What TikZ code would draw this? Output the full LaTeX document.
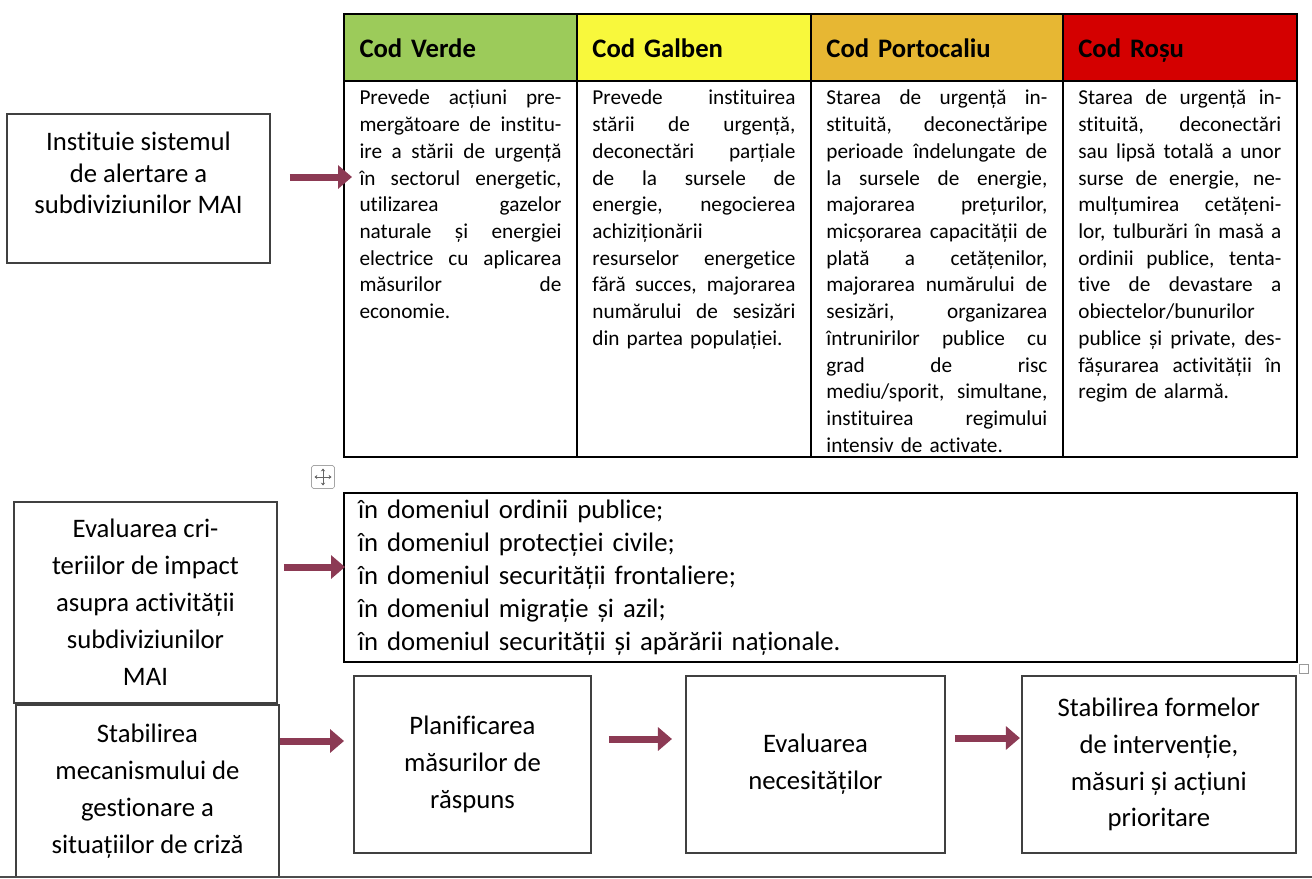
\documentclass[tikz,border=0pt]{standalone}
\usepackage{fontspec}
\setmainfont{Carlito}[Ligatures=NoCommon]
\usepackage{xcolor}
\usetikzlibrary{arrows.meta, positioning}

\definecolor{codverde}{HTML}{9CCB5A}
\definecolor{codgalben}{HTML}{F8F83C}
\definecolor{codportocaliu}{HTML}{E7B733}
\definecolor{codrosu}{HTML}{D40000}
\definecolor{sageata}{HTML}{8C3A54}

\newlength{\kw}
\newcommand{\jl}[1]{\makebox[\kw][s]{\spaceskip=\fontdimen2\font plus 1fil\relax #1}\\}
\newcommand{\cellfont}{\fontsize{12.1}{15.2}\selectfont}
\newcommand{\hdrfont}{\fontsize{15.2}{18}\selectfont\bfseries}
\newcommand{\boxfont}{\fontsize{15.2}{21}\selectfont}

\begin{document}
\begin{tikzpicture}[x=0.02cm, y=-0.02cm]
            \tikzset{
                hdr/.style={draw, line width=1pt, outer sep=0pt, inner xsep=0.31cm, inner ysep=0pt, minimum height=1.34cm, text width=#1, text height=0.44cm, text depth=0.02cm, font=\hdrfont},
                cell/.style={draw, line width=1pt, outer sep=0pt, inner xsep=0.31cm, inner ysep=0pt, text width=#1, text height=0.48cm, text depth=7.04cm, font=\cellfont, execute at begin node={\setlength{\kw}{#1}}},
                stepbox/.style={draw=black!75, line width=0.8pt, outer sep=0pt, align=center, font=\boxfont},
                arr/.style={-{Triangle[length=0.28cm, width=0.46cm]}, line width=0.14cm, draw=sageata}
            }
            \useasboundingbox (0,0) rectangle (1312,879);
            % header row of the table
            \node[hdr=4.04cm, fill=codverde, anchor=north west] (hv) at (344,14) {Cod Verde};
            \node[hdr=4.06cm, fill=codgalben, right=0pt of hv] (hg) {Cod Galben};
            \node[hdr=4.42cm, fill=codportocaliu, right=0pt of hg] (hp) {Cod Portocaliu};
            \node[hdr=4.06cm, fill=codrosu, right=0pt of hp] (hr) {Cod Roșu};
            % body row
            \node[cell=4.04cm, below=0pt of hv] (cv) {\jl{Prevede acțiuni pre-}
                \jl{mergătoare de institu-}
                \jl{ire a stării de urgență}
                \jl{în sectorul energetic,}
                \jl{utilizarea gazelor}
                \jl{naturale și energiei}
                \jl{electrice cu aplicarea}
                \jl{măsurilor de}
                economie.};
            \node[cell=4.06cm, below=0pt of hg] (cg) {\jl{Prevede instituirea}
                \jl{stării de urgență,}
                \jl{deconectări parțiale}
                \jl{de la sursele de}
                \jl{energie, negocierea}
                achiziționării\\
                \jl{resurselor energetice}
                \jl{fără succes, majorarea}
                \jl{numărului de sesizări}
                din partea populației.};
            \node[cell=4.42cm, below=0pt of hp] (cp) {\jl{Starea de urgență in-}
                \jl{stituită, deconectăripe}
                \jl{perioade îndelungate de}
                \jl{la sursele de energie,}
                \jl{majorarea prețurilor,}
                \jl{micșorarea capacității de}
                \jl{plată a cetățenilor,}
                \jl{majorarea numărului de}
                \jl{sesizări, organizarea}
                \jl{întrunirilor publice cu}
                \jl{grad de risc}
                \jl{mediu/sporit, simultane,}
                \jl{instituirea regimului}
                intensiv de activate.};
            \node[cell=4.06cm, below=0pt of hr] (cr) {\jl{Starea de urgență in-}
                \jl{stituită, deconectări}
                \jl{sau lipsă totală a unor}
                \jl{surse de energie, ne-}
                \jl{mulțumirea cetățeni-}
                \jl{lor, tulburări în masă a}
                \jl{ordinii publice, tenta-}
                \jl{tive de devastare a}
                obiectelor/bunurilor\\
                \jl{publice și private, des-}
                \jl{fășurarea activității în}
                regim de alarmă.};
            % boxes on the left
            \node[stepbox, minimum width=5.26cm, minimum height=2.98cm, font=\fontsize{15.2}{17.9}\selectfont] (alert) at (138.5,188.5) {Instituie sistemul\\de alertare a\\subdiviziunilor MAI\\~};
            \node[stepbox, minimum width=5.26cm, minimum height=4.02cm] (impact) at (145.5,602.5) {Evaluarea cri-\\teriilor de impact\\asupra activității\\subdiviziunilor\\MAI};
            \node[stepbox, minimum width=5.26cm, minimum height=3.44cm] (mecanism) at (147.5,791) {Stabilirea\\mecanismului de\\gestionare a\\situațiilor de criză};
            % list of domains
            \node[draw, line width=1pt, outer sep=0pt, anchor=north west, text width=18.5cm, inner xsep=0.28cm, minimum height=3.38cm, align=left, font=\fontsize{15.2}{18.85}\selectfont] (domenii) at (344,493) {în domeniul ordinii publice;\\
                în domeniul protecției civile;\\
                în domeniul securității frontaliere;\\
                în domeniul migrație și azil;\\
                în domeniul securității și apărării naționale.};
            % bottom row
            \node[stepbox, minimum width=4.74cm, minimum height=3.54cm] (plan) at (472.5,764.5) {Planificarea\\măsurilor de\\răspuns};
            \node[stepbox, minimum width=5.18cm, minimum height=3.54cm, right=1.9cm of plan] (necesit) {Evaluarea\\necesităților};
            \node[stepbox, minimum width=5.48cm, minimum height=3.54cm, right=1.54cm of necesit] (forme) {Stabilirea formelor\\de intervenție,\\măsuri și acțiuni\\prioritare};
            % arrows
            \draw[arr, shorten <=0.4cm, shorten >=-0.16cm] ([yshift=0.23cm]alert.east) -- ([yshift=0.23cm]alert.east -| hv.west);
            \draw[arr, shorten <=0.14cm, shorten >=-0.02cm] ([yshift=0.71cm]impact.east) -- ([yshift=0.71cm]impact.east -| domenii.west);
            \draw[arr, shorten <=0.02cm, shorten >=0.2cm] ([yshift=1cm]mecanism.east) -- ([yshift=1cm]mecanism.east -| plan.west);
            \draw[arr, shorten <=0.36cm, shorten >=0.28cm] ([yshift=0.51cm]plan.east) -- ([yshift=0.51cm]necesit.west);
            \draw[arr, shorten <=0.2cm, shorten >=0.04cm] ([yshift=0.53cm]necesit.east) -- ([yshift=0.53cm]forme.west);
            % editor marks
            \node[draw=black!35, fill=white, rounded corners=1pt, minimum size=0.46cm, inner sep=0pt] (muta) at (323,477) {};
            \draw[black!60, line width=0.5pt, {Stealth[length=1.6pt, width=2.4pt]}-{Stealth[length=1.6pt, width=2.4pt]}] ([xshift=-0.17cm]muta.center) -- ([xshift=0.17cm]muta.center);
            \draw[black!60, line width=0.5pt, {Stealth[length=1.6pt, width=2.4pt]}-{Stealth[length=1.6pt, width=2.4pt]}] ([yshift=-0.17cm]muta.center) -- ([yshift=0.17cm]muta.center);
            \node[draw=black!40, fill=white, minimum size=0.18cm, inner sep=0pt] (maner) at (1304,669) {};
            \coordinate (josst) at (0,877);
            \coordinate (josdr) at (1312,877);
            \draw[line width=1.2pt, black!70] (josst) -- (josdr);
        \end{tikzpicture}
\end{document}
